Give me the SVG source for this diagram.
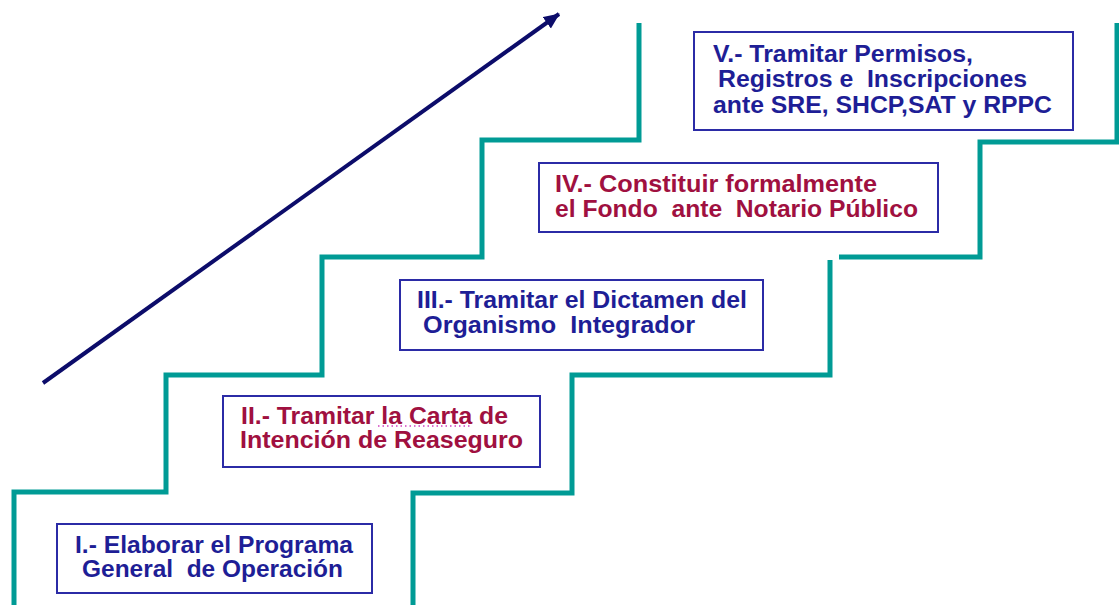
<svg xmlns="http://www.w3.org/2000/svg" width="1119" height="605" viewBox="0 0 1119 605">
<defs>
<style>
.step{fill:none;stroke:#009b95;stroke-width:5;stroke-linejoin:miter}
.box{fill:#fff;stroke:#2b2ba6;stroke-width:2}
.t{font-family:"Liberation Sans",Arial,sans-serif;font-size:23px;font-weight:bold;white-space:pre}
.b{fill:#1e1e96}
.r{fill:#a01040}
</style>
<marker id="ah" markerUnits="userSpaceOnUse" markerWidth="18" markerHeight="16" refX="15" refY="7" orient="auto">
<path d="M0,0 L16,7 L0,14 Z" fill="#0c0c6a"/>
</marker>
</defs>
<rect width="1119" height="605" fill="#fff"/>
<g id="connectors">
<path class="step" d="M14,605 V492 H166 V375 H322 V257 H482 V140 H639 V23"/>
<path class="step" d="M413,605 V493 H572 V375 H830 V260"/>
<path class="step" d="M839,257 H980 V142 H1117 V23"/>
<line x1="43" y1="383" x2="559" y2="14" stroke="#0c0c6a" stroke-width="4" marker-end="url(#ah)"/>
</g>
<g id="step1">
<rect class="box" x="57" y="524" width="315" height="69"/>
<text class="t b" x="75" y="553" textLength="278" lengthAdjust="spacingAndGlyphs">I.- Elaborar el Programa</text>
<text class="t b" x="82" y="577" textLength="261" lengthAdjust="spacingAndGlyphs" xml:space="preserve">General  de Operación</text>
</g>
<g id="step2">
<rect class="box" x="223" y="396" width="317" height="71"/>
<text class="t r" x="241" y="424" textLength="267" lengthAdjust="spacingAndGlyphs">II.- Tramitar la Carta de</text>
<text class="t r" x="240" y="448" textLength="283" lengthAdjust="spacingAndGlyphs">Intención de Reaseguro</text>
<line x1="378" y1="426" x2="470" y2="426" stroke="#d040c0" stroke-width="1.5" stroke-dasharray="1.5,3"/>
</g>
<g id="step3">
<rect class="box" x="400" y="280" width="363" height="70"/>
<text class="t b" x="417" y="308" textLength="330" lengthAdjust="spacingAndGlyphs">III.- Tramitar el Dictamen del</text>
<text class="t b" x="423" y="333" textLength="272" lengthAdjust="spacingAndGlyphs" xml:space="preserve">Organismo  Integrador</text>
</g>
<g id="step4">
<rect class="box" x="539" y="163" width="399" height="69"/>
<text class="t r" x="555" y="192" textLength="322" lengthAdjust="spacingAndGlyphs">IV.- Constituir formalmente</text>
<text class="t r" x="555" y="217" textLength="363" lengthAdjust="spacingAndGlyphs" xml:space="preserve">el Fondo  ante  Notario Público</text>
</g>
<g id="step5">
<rect class="box" x="694" y="32" width="379" height="98"/>
<text class="t b" x="713" y="62" textLength="260" lengthAdjust="spacingAndGlyphs">V.- Tramitar Permisos,</text>
<text class="t b" x="718" y="87" textLength="309" lengthAdjust="spacingAndGlyphs" xml:space="preserve">Registros e  Inscripciones</text>
<text class="t b" x="713" y="113" textLength="339" lengthAdjust="spacingAndGlyphs">ante SRE, SHCP,SAT y RPPC</text>
</g>
</svg>
